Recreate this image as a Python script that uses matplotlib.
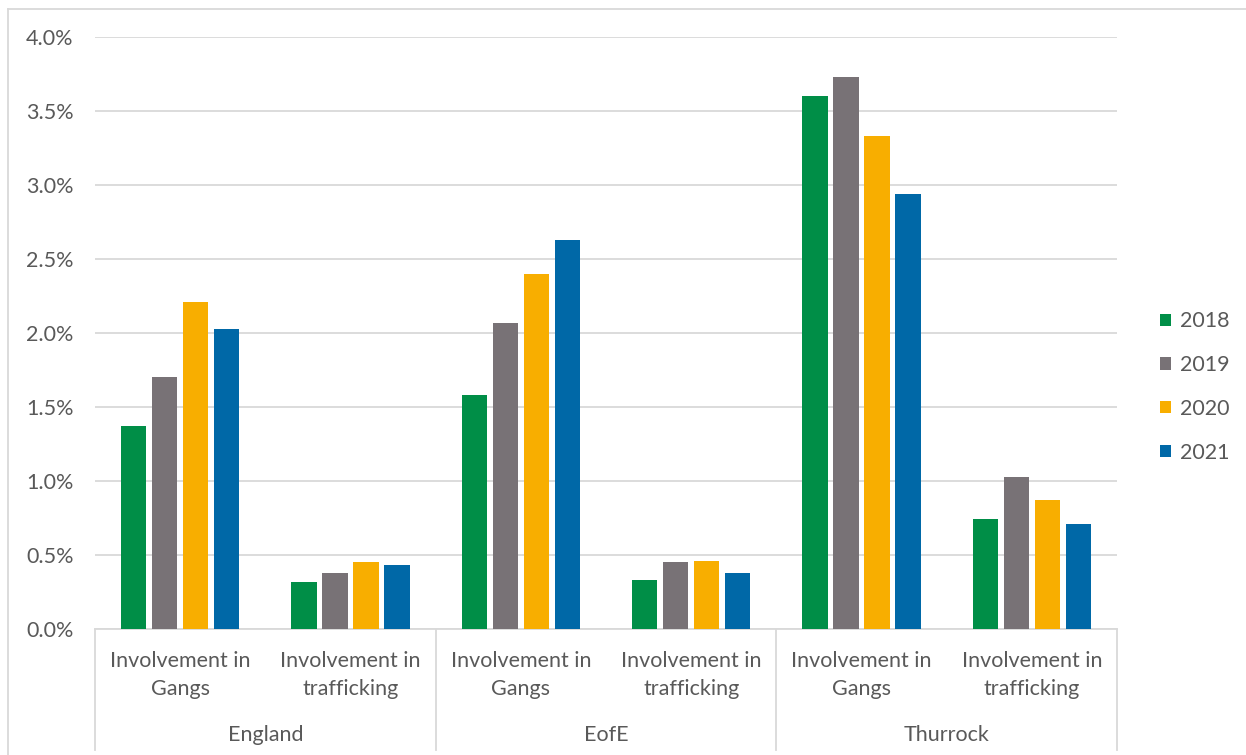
import matplotlib.pyplot as plt
import numpy as np
from matplotlib.ticker import PercentFormatter, MultipleLocator
from matplotlib.lines import Line2D
from matplotlib.patches import Patch

plt.rcParams['font.family'] = ['Lato', 'DejaVu Sans']

groups = ["England", "EofE", "Thurrock"]
subcats = ["Involvement in\nGangs", "Involvement in\ntrafficking"]
years = ["2018", "2019", "2020", "2021"]
colors = ["#008E47", "#787276", "#F8AE00", "#0068A7"]

# percent values, order: Eng gangs, Eng traff, EofE gangs, EofE traff, Thu gangs, Thu traff
v2018 = [1.37, 0.32, 1.58, 0.33, 3.60, 0.74]
v2019 = [1.70, 0.38, 2.07, 0.45, 3.73, 1.03]
v2020 = [2.21, 0.45, 2.40, 0.46, 3.33, 0.87]
v2021 = [2.03, 0.43, 2.63, 0.38, 2.94, 0.71]
series = [v2018, v2019, v2020, v2021]

txt = "#595959"
grid = "#D9D9D9"
fs = 15.5

fig = plt.figure(figsize=(12.46, 7.55), dpi=100)
W, H = 1246, 755
ax = fig.add_axes([95 / W, 1 - 629 / H, (1117 - 95) / W, (629 - 37) / H])

x = np.arange(6)
pitch = 0.182
for i, vals in enumerate(series):
    ax.bar(x + (i - 1.5) * pitch, vals, width=0.15, color=colors[i],
           label=years[i], zorder=3)

ax.set_xlim(-0.5, 5.5)
ax.set_ylim(0, 4.0)
ax.yaxis.set_major_locator(MultipleLocator(0.5))
ax.yaxis.set_major_formatter(PercentFormatter(100, decimals=1))
ax.grid(axis="y", color=grid, linewidth=1.3, zorder=0)
for s in ["top", "right", "left"]:
    ax.spines[s].set_visible(False)
ax.spines["bottom"].set_color(grid)
ax.spines["bottom"].set_linewidth(1.3)
ax.set_xticks([])
ax.tick_params(axis="y", length=0, pad=15.5, labelsize=fs, labelcolor=txt)

tr = ax.get_xaxis_transform()
for k in range(6):
    ax.text(x[k], -0.078, subcats[k % 2], transform=tr, ha="center", va="center",
            fontsize=fs, color=txt, linespacing=1.5)
for g, name in enumerate(groups):
    ax.text(2 * g + 0.5, -0.179, name, transform=tr, ha="center", va="center",
            fontsize=fs, color=txt)
for xs in [-0.5, 1.5, 3.5, 5.5]:
    ax.add_line(Line2D([xs, xs], [0, -0.205], transform=tr, color=grid,
                       linewidth=1.3, clip_on=False))

# outer border of chart area
fig.add_artist(Line2D([8 / W, 8 / W], [0, 1 - 8.5 / H], color=grid, linewidth=1.3))
fig.add_artist(Line2D([8 / W, 1], [1 - 8.5 / H, 1 - 8.5 / H], color=grid, linewidth=1.3))

handles = [Patch(facecolor=c, label=y) for c, y in zip(colors, years)]
fig.legend(handles=handles, loc="center left", bbox_to_anchor=(1141 / W, 1 - 387 / H),
           frameon=False, fontsize=fs, labelcolor=txt, handlelength=0.5,
           handleheight=0.5, handletextpad=0.4, labelspacing=1.1)

fig.savefig("out.png", dpi=100)
